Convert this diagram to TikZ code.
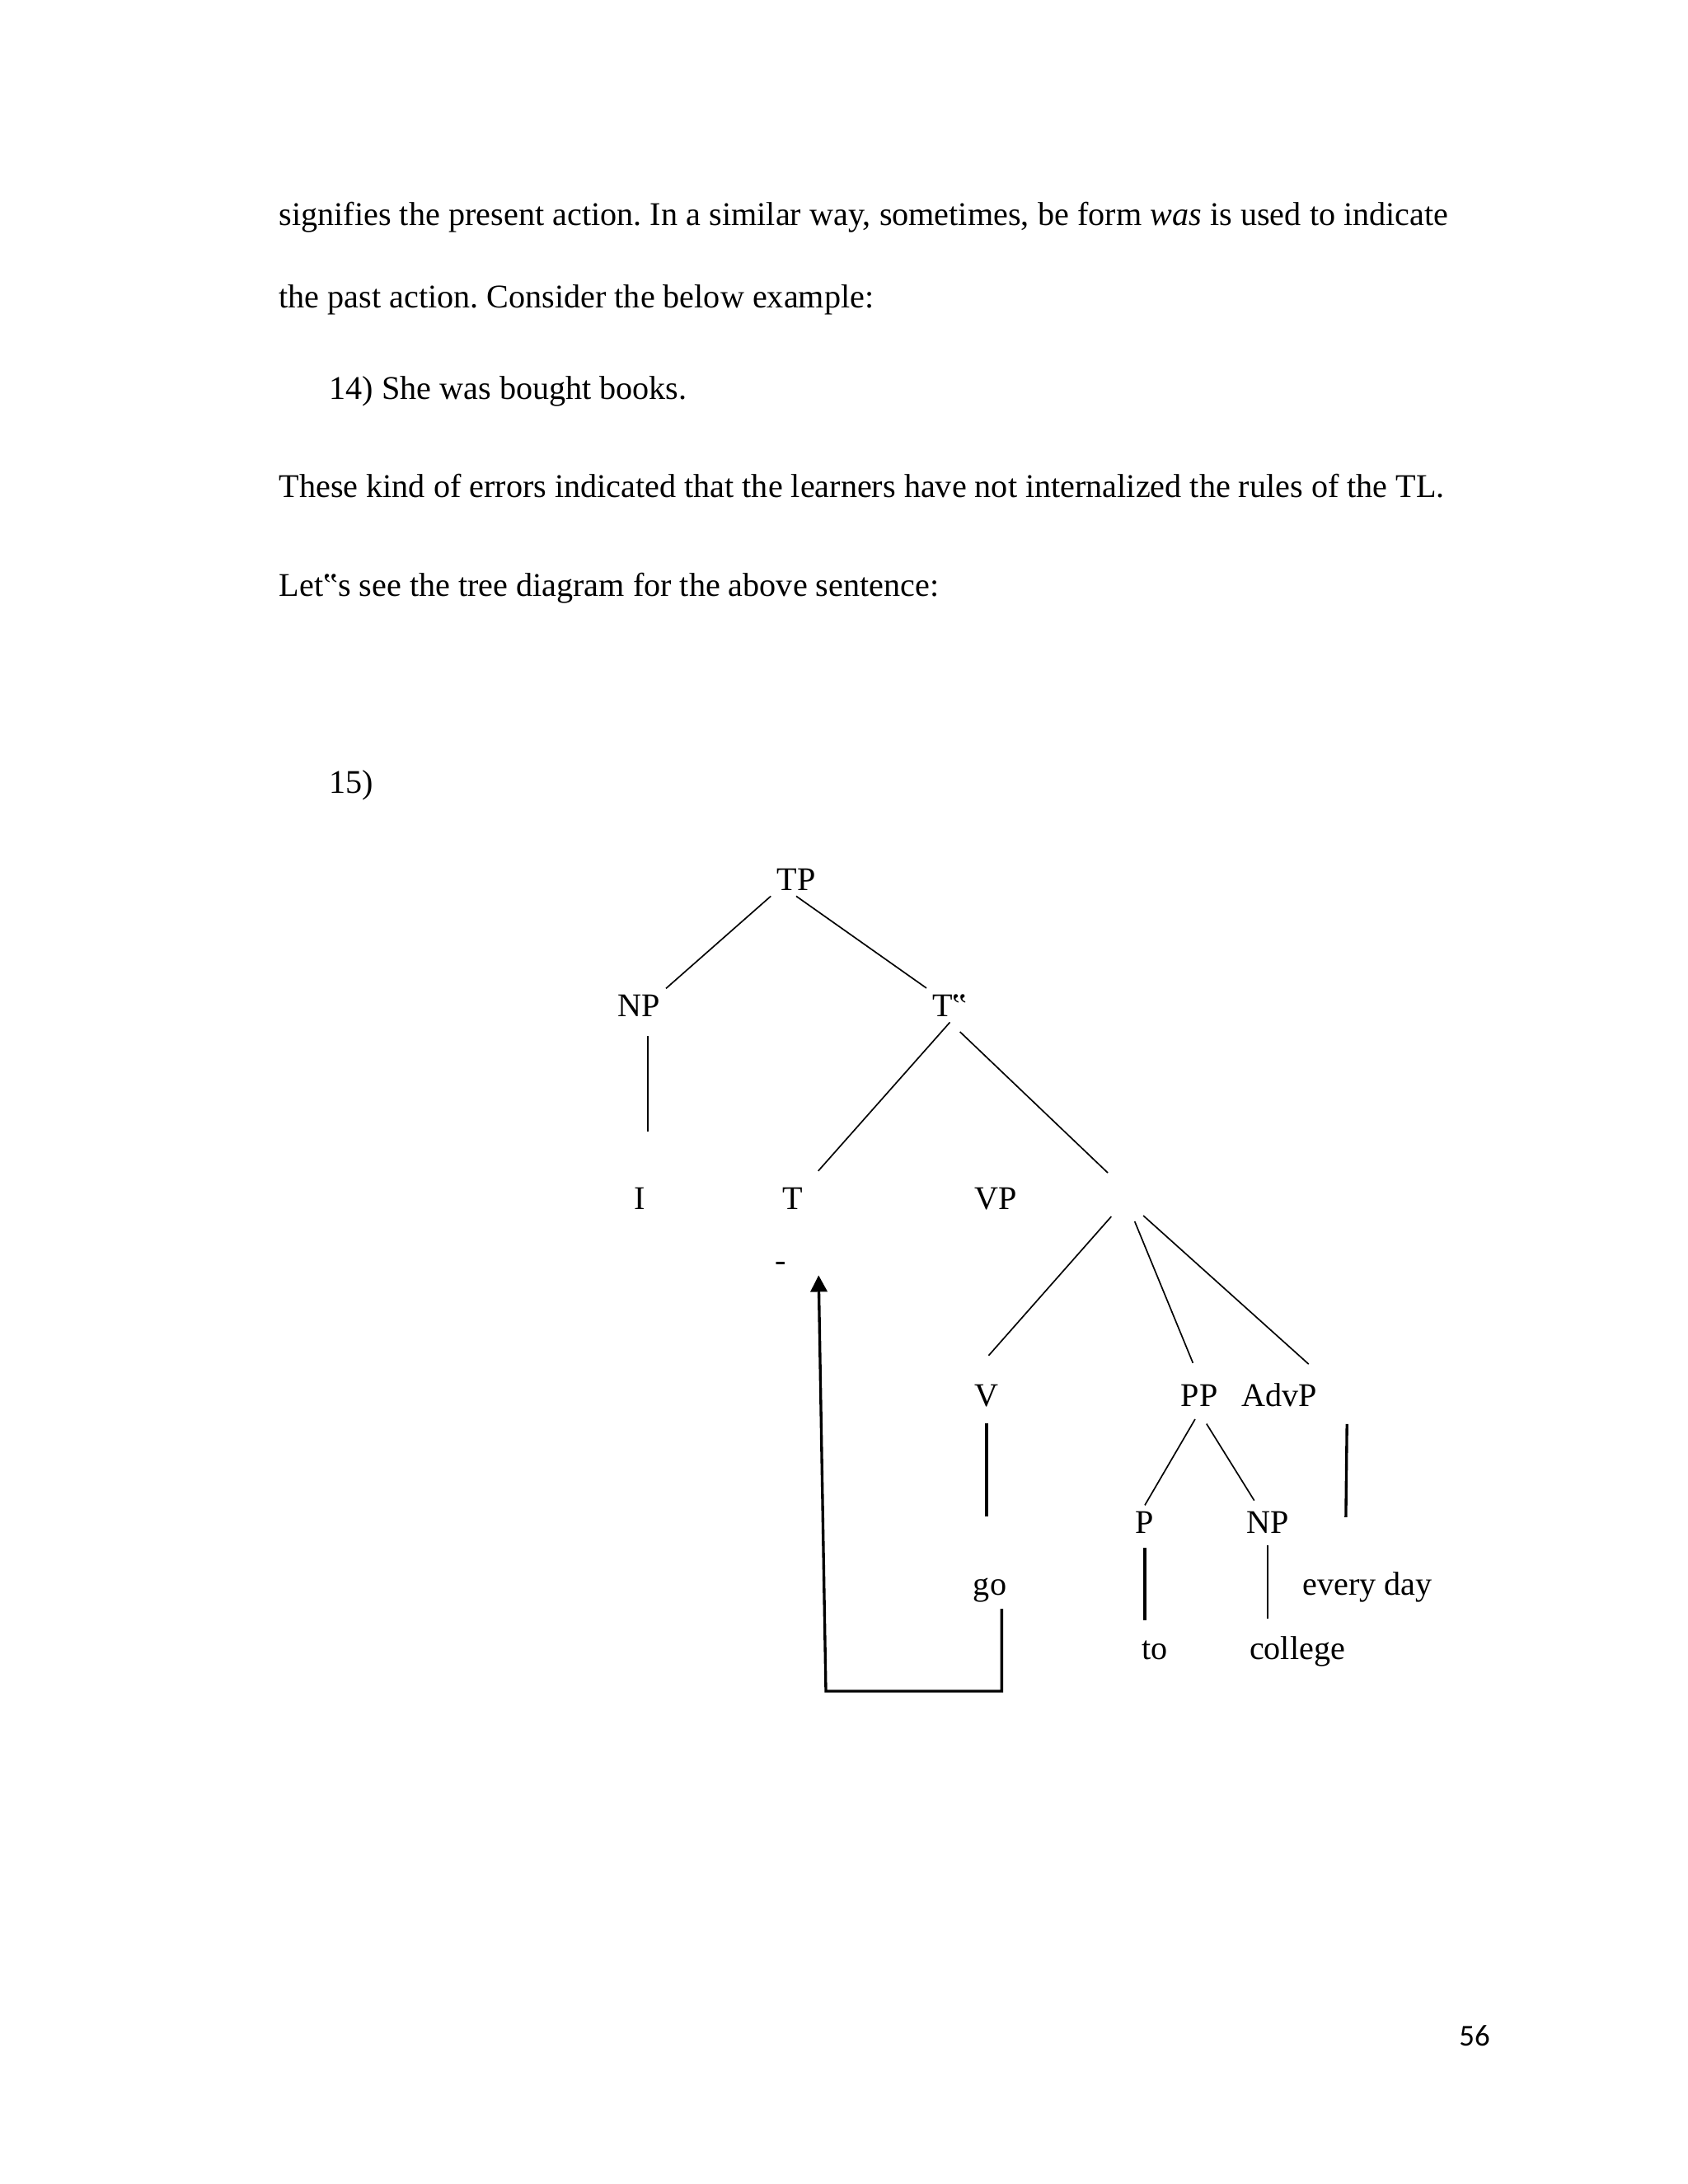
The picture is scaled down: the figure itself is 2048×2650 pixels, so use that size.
\documentclass[tikz,border=0pt]{standalone}
\usepackage{fontspec}
\setmainfont{Liberation Serif}
\newfontfamily\pagenofont{Carlito}
\usetikzlibrary{arrows.meta}
\frenchspacing

\begin{document}
\begin{tikzpicture}[x=0.29882pt, y=-0.29882pt]
    \tikzstyle{para} = [anchor=base west, inner sep=0pt, font=\fontsize{12pt}{14pt}\selectfont]
    \tikzstyle{cat} = [anchor=base, inner sep=2pt, font=\fontsize{12pt}{14pt}\selectfont]
    \tikzstyle{branch} = [line width=0.5pt]
    \tikzstyle{stem} = [line width=1pt]
    \useasboundingbox (0,0) rectangle (2048,2650);

    % running text of the page
    \node (l1) [para] at (338,273) {\makebox[424pt][s]{signifies the present action. In a similar way, sometimes, be form \textit{was} is used to indicate}};
    \node (l2) [para] at (338,373) {the past action. Consider the below example:};
    \node (ex14) [para] at (399,484) {14) She was bought books.};
    \node (l3) [para] at (338,603) {These kind of errors indicated that the learners have not internalized the rules of the TL.};
    \node (l4) [para] at (338,723) {Let‟s see the tree diagram for the above sentence:};
    \node (ex15) [para] at (399,962) {15)};
    \node (pageno) [anchor=base, inner sep=0pt, font=\pagenofont\fontsize{11pt}{13pt}\selectfont] at (1789,2482) {56};

    % tree nodes
    \node (tp)       [cat] at (966,1080)  {TP};
    \node (np)       [cat] at (775,1233)  {NP};
    \node (tbar)     [cat, anchor=base west] at (1124,1233) {T‟};
    \node (i)        [cat] at (776,1467)  {I};
    \node (t)        [cat] at (962,1467)  {T};
    \node (vp)       [cat] at (1208,1467) {VP};
    \node (trace)    [cat] at (947,1542)  {-};
    \node (v)        [cat] at (1197,1706) {V};
    \node (pp)       [cat] at (1455,1706) {PP};
    \node (advp)     [cat] at (1552,1706) {AdvP};
    \node (p)        [cat] at (1389,1860) {P};
    \node (np2)      [cat] at (1538,1860) {NP};
    \node (go)       [cat] at (1201,1935) {go};
    \node (everyday) [cat] at (1659,1935) {every day};
    \node (to)       [cat] at (1401,2013) {to};
    \node (college)  [cat] at (1574,2013) {college};

    % open ends of the VP branch
    \coordinate (vpin)  at (1344,1423);
    \coordinate (vpout) at (1366,1456);
    \coordinate (hook)  at (1002,2052);

    % branches
    \draw [branch] (tp.south west) -- (np.north east);
    \draw [branch] (tp.south) -- (tbar.north west);
    \draw [branch, shorten <=5pt, shorten >=18pt] ([xshift=3.3pt]np.south) -- ([xshift=3.3pt]np.south |- i.north);
    \draw [branch, shorten >=5pt] (tbar.south) -- (t.north east);
    \draw [branch, shorten <=5pt] (tbar.south) -- (vpin);
    \draw [branch, shorten <=8pt, shorten >=11pt] (vpout) -- (v.north west);
    \draw [branch, shorten <=8.4pt, shorten >=6pt] (vpout) -- (pp.north);
    \draw [branch, shorten <=8.5pt, shorten >=7pt] (vpout) -- (advp.north east);
    \draw [stem, shorten <=4pt, shorten >=20pt] (v.south) -- (v.south |- go.north);
    \draw [branch, shorten <=3pt] (pp.south) -- (p.north);
    \draw [branch, shorten <=5pt, shorten >=2pt] (pp.south) -- (np2);
    \draw [stem] ([xshift=8.7pt,yshift=-4.2pt]advp.south east) -- ([xshift=-7.8pt,yshift=17.6pt]everyday.north);
    \draw [stem, shorten <=3.3pt, shorten >=5pt] (p.south) -- (p.south |- to.north);
    \draw [branch, shorten <=2.4pt, shorten >=4pt] (np2.south) -- (np2.south |- college.north);

    % movement of go up to T
    \draw [stem, -{Triangle[length=6pt, width=6pt]}] ([xshift=-3.9pt,yshift=-0.3pt]go.south east) |- (hook) -- ([xshift=9.6pt,yshift=0.6pt]trace.south east);
\end{tikzpicture}
\end{document}
